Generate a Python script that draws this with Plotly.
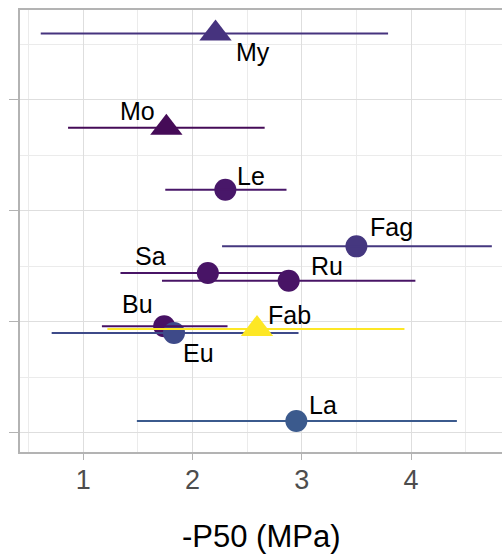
import plotly.graph_objects as go

# ---- data ----
species = ["My", "Mo", "Le", "Fag", "Sa", "Ru", "Bu", "Eu", "Fab", "La"]
p50 = [2.21, 1.76, 2.30, 3.50, 2.14, 2.88, 1.74, 1.83, 2.59, 2.95]
p50_lo = [0.61, 0.86, 1.75, 2.27, 1.34, 1.72, 1.17, 0.71, 1.22, 1.49]
p50_hi = [3.79, 2.66, 2.86, 4.74, 2.85, 4.04, 2.32, 2.97, 3.94, 4.42]
yval = [3.60, 2.75, 2.19, 1.68, 1.44, 1.37, 0.96, 0.90, 0.935, 0.105]
shape = ["triangle", "triangle", "circle", "circle", "circle", "circle",
         "circle", "circle", "triangle", "circle"]
x_ticks = [1, 2, 3, 4]
y_ticks = [0, 1, 2, 3]

# ---- styles ----
colors = ["#46337E", "#450B57", "#481769", "#45377F", "#481466", "#481466",
          "#471164", "#3E4A89", "#FDE725", "#3B5A8D"]
label_shift = {"My": (37, -19), "Mo": (-29, 17), "Le": (26, 14), "Fag": (35, 19),
               "Sa": (-57, 17), "Ru": (38, 15), "Bu": (-27, 22), "Eu": (24, -20),
               "Fab": (32, 14), "La": (27, 16)}
FONT = "Liberation Sans, Arial, sans-serif"

fig = go.Figure()

circ = [i for i, s in enumerate(shape) if s == "circle"]
tri = [i for i, s in enumerate(shape) if s == "triangle"]

# circles first
for i in circ:
    fig.add_trace(go.Scatter(x=[p50[i]], y=[yval[i]], mode="markers",
                             marker=dict(symbol="circle", size=22, color=colors[i],
                                         line=dict(width=0)),
                             showlegend=False, hoverinfo="skip"))
# error lines on top of circles
for i in range(len(species)):
    fig.add_trace(go.Scatter(x=[p50[i]], y=[yval[i]], mode="markers",
                             marker=dict(size=1, opacity=0),
                             error_x=dict(type="data", symmetric=False,
                                          array=[p50_hi[i] - p50[i]],
                                          arrayminus=[p50[i] - p50_lo[i]],
                                          width=0, thickness=2, color=colors[i]),
                             showlegend=False, hoverinfo="skip"))
# triangles on top
for i in tri:
    fig.add_trace(go.Scatter(x=[p50[i]], y=[yval[i]], mode="markers",
                             marker=dict(symbol="triangle-up", size=28, color=colors[i],
                                         line=dict(width=0)),
                             showlegend=False, hoverinfo="skip"))

for i, name in enumerate(species):
    dx, dy = label_shift[name]
    fig.add_annotation(x=p50[i], y=yval[i], text=name, showarrow=False,
                       xshift=dx, yshift=dy, xanchor="center", yanchor="middle",
                       font=dict(family=FONT, size=25, color="black"))

fig.add_annotation(x=0.5, y=-0.192, xref="paper", yref="paper", text="-P50 (MPa)",
                   showarrow=False, xanchor="center", yanchor="middle",
                   font=dict(family=FONT, size=31, color="black"))

grid_major = "#DEDEDE"
grid_minor = "#EBEBEB"
border = "#B3B3B3"

fig.update_layout(
    width=502, height=560,
    margin=dict(l=20, r=0, t=10, b=108),
    plot_bgcolor="white", paper_bgcolor="white",
    xaxis=dict(range=[0.42, 4.833], tickvals=x_ticks, ticktext=[str(v) for v in x_ticks],
               showgrid=True, gridcolor=grid_major, gridwidth=1.2,
               minor=dict(dtick=0.5, tick0=0, showgrid=True, gridcolor=grid_minor, gridwidth=1),
               zeroline=False, showline=True, linecolor=border, linewidth=1.5, mirror=True,
               ticks="outside", ticklen=6, tickcolor=border, tickwidth=1.2,
               ticklabelstandoff=-3,
               tickfont=dict(family=FONT, size=27, color="#4D4D4D")),
    yaxis=dict(range=[-0.174, 3.811], tickvals=y_ticks, ticktext=["" for _ in y_ticks],
               showgrid=True, gridcolor=grid_major, gridwidth=1.2,
               minor=dict(dtick=0.5, tick0=0, showgrid=True, gridcolor=grid_minor, gridwidth=1),
               zeroline=False, showline=True, linecolor=border, linewidth=1.5, mirror=False,
               ticks="outside", ticklen=9, tickcolor=border, tickwidth=1.2),
)

fig.write_html("out.html", config={"displayModeBar": False},
               post_script="document.body.style.margin='0';document.body.style.overflow='hidden';")
